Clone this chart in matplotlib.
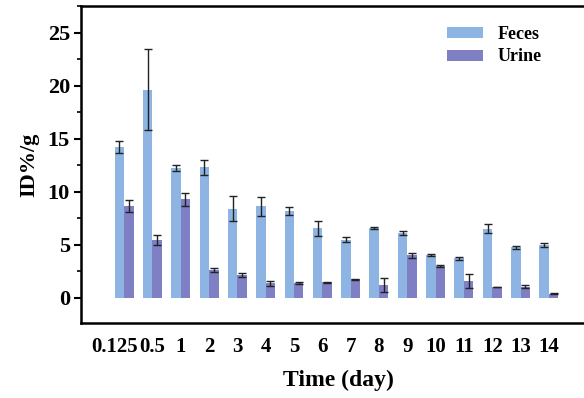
import matplotlib
matplotlib.use("Agg")
import matplotlib.pyplot as plt
import numpy as np
from matplotlib.ticker import MultipleLocator
from matplotlib.transforms import ScaledTranslation

categories = ["0.125", "0.5", "1", "2", "3", "4", "5", "6", "7", "8", "9", "10", "11", "12", "13", "14"]
feces = [14.2, 19.6, 12.25, 12.3, 8.4, 8.6, 8.15, 6.55, 5.45, 6.56, 6.12, 4.02, 3.71, 6.5, 4.74, 4.95]
feces_err = [0.55, 3.8, 0.3, 0.7, 1.2, 0.9, 0.4, 0.7, 0.25, 0.1, 0.18, 0.12, 0.15, 0.45, 0.12, 0.2]
urine = [8.63, 5.43, 9.26, 2.6, 2.1, 1.35, 1.35, 1.45, 1.73, 1.2, 4.0, 2.98, 1.57, 1.0, 1.04, 0.38]
urine_err = [0.55, 0.45, 0.6, 0.15, 0.2, 0.25, 0.1, 0.05, 0.05, 0.65, 0.25, 0.1, 0.65, 0.03, 0.12, 0.08]

plt.rcParams['font.family'] = ['Liberation Serif', 'DejaVu Serif']
plt.rcParams['font.weight'] = 'bold'

fig = plt.figure(figsize=(5.84, 3.98), dpi=100)
ax = fig.add_axes([0.1387, 0.1884, 0.8813, 0.7965])

x = np.arange(len(categories))
w = 0.335
c_f = '#8eb4e3'
c_u = '#7f7fc4'
ax.bar(x - w / 2, feces, width=w, color=c_f, label='Feces', zorder=2)
ax.bar(x + w / 2, urine, width=w, color=c_u, label='Urine', zorder=2)
ax.errorbar(x - w / 2, feces, yerr=feces_err, fmt='none', ecolor='#222222',
            elinewidth=1.0, capsize=3, capthick=1.0, zorder=3)
ax.errorbar(x + w / 2, urine, yerr=urine_err, fmt='none', ecolor='#222222',
            elinewidth=1.0, capsize=3, capthick=1.0, zorder=3)

ax.set_xlim(-1.52, 16.65)
ax.set_ylim(-2.4, 27.5)
ax.set_xticks(x)
ax.set_xticklabels(categories, fontsize=15, fontweight='bold')
ax.tick_params(axis='x', length=0, pad=10)
# shift the first (crowded) label slightly left, as in the reference
first = ax.get_xticklabels()[0]
first.set_transform(first.get_transform() + ScaledTranslation(-9 / 100, 0, fig.dpi_scale_trans))

ax.yaxis.set_major_locator(MultipleLocator(5))
ax.yaxis.set_minor_locator(MultipleLocator(2.5))
ax.set_yticks([0, 5, 10, 15, 20, 25])
ax.tick_params(axis='y', which='major', length=5, width=1.5, direction='out', labelsize=16, pad=3)
ax.tick_params(axis='y', which='minor', length=3, width=1.2, direction='out')
for lab in ax.get_yticklabels():
    lab.set_fontweight('bold')

for s in ['left', 'top', 'bottom']:
    ax.spines[s].set_linewidth(1.8)
ax.spines['right'].set_visible(False)

ax.set_ylabel('ID%/g', fontsize=16, fontweight='bold', labelpad=6)
ax.set_xlabel('Time (day)', fontsize=17, fontweight='bold', labelpad=9)

leg = ax.legend(loc='upper left', bbox_to_anchor=(0.68, 0.988), frameon=False,
                prop={'family': 'Liberation Serif', 'weight': 'bold', 'size': 13},
                handlelength=2.0, handleheight=0.55, handletextpad=0.8, labelspacing=0.3)

fig.savefig('out.png', dpi=100)
